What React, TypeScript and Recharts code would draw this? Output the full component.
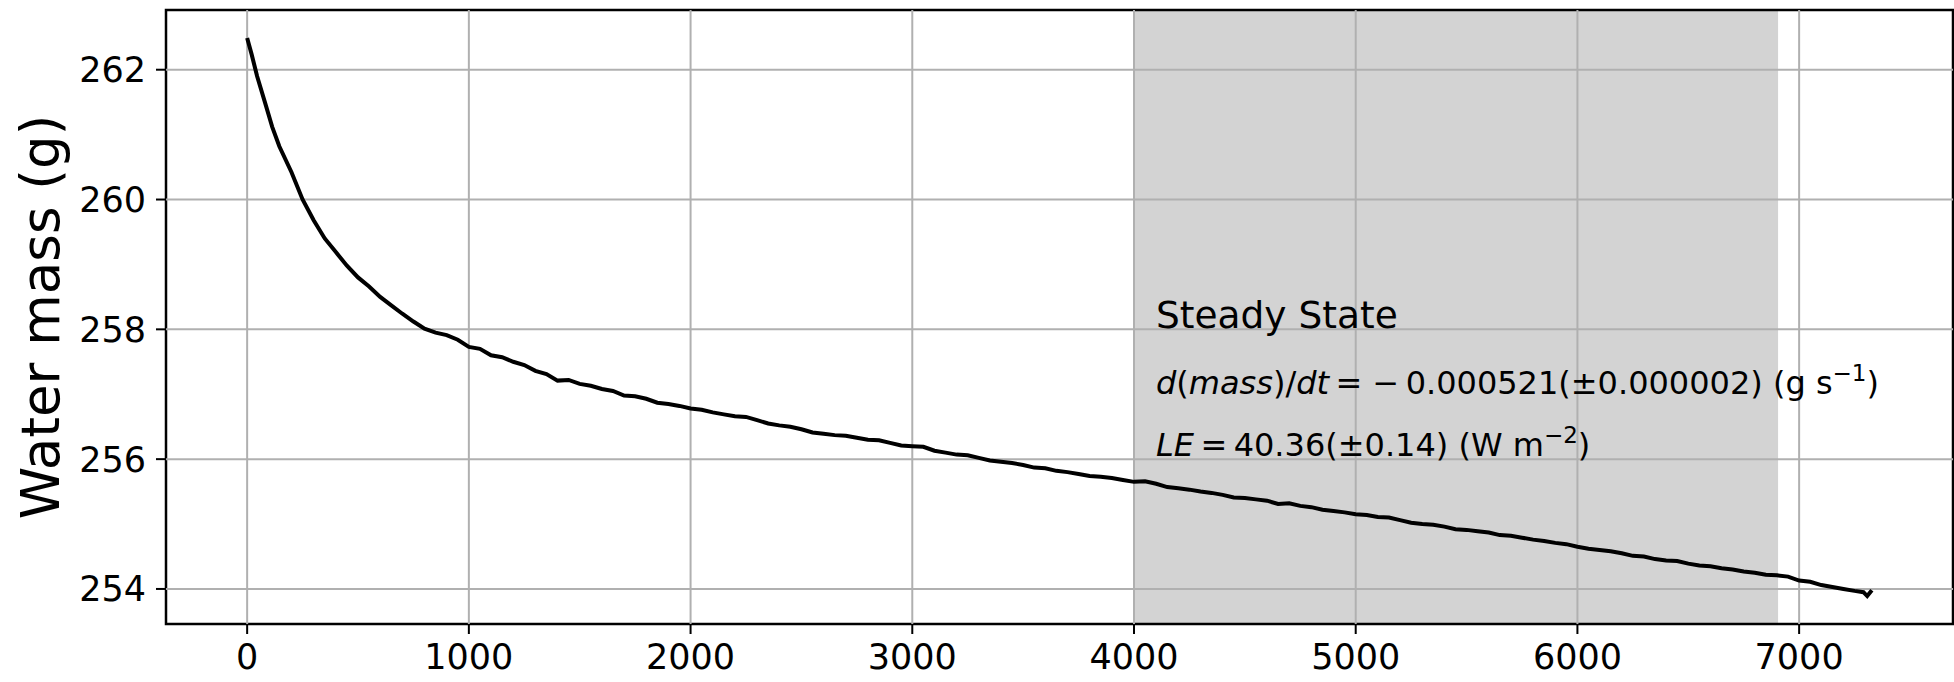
import React from 'react';
import { ComposedChart, Line, XAxis, YAxis, ReferenceArea, ReferenceLine } from 'recharts';

// elapsed time (s) and water mass (g)
const times = [
  0, 20, 45, 80, 113, 145, 200, 250, 300, 350, 400, 450, 500, 550, 600, 650, 700, 750,
  800, 850, 900, 950, 1000, 1050, 1100, 1150, 1200, 1250, 1300, 1350, 1400, 1450, 1500, 1550,
  1600, 1650, 1700, 1750, 1800, 1850, 1900, 1950, 2000, 2050, 2100, 2150, 2200, 2250, 2300, 2350,
  2400, 2450, 2500, 2550, 2600, 2650, 2700, 2750, 2800, 2850, 2900, 2950, 3000, 3050, 3100, 3150,
  3200, 3250, 3300, 3350, 3400, 3450, 3500, 3550, 3600, 3650, 3700, 3750, 3800, 3850, 3900, 3950,
  4000, 4050, 4100, 4150, 4200, 4250, 4300, 4350, 4400, 4450, 4500, 4550, 4600, 4650, 4700, 4750,
  4800, 4850, 4900, 4950, 5000, 5050, 5100, 5150, 5200, 5250, 5300, 5350, 5400, 5450, 5500, 5550,
  5600, 5650, 5700, 5750, 5800, 5850, 5900, 5950, 6000, 6050, 6100, 6150, 6200, 6250, 6300, 6350,
  6400, 6450, 6500, 6550, 6600, 6650, 6700, 6750, 6800, 6850, 6900, 6950, 7000, 7050, 7100, 7150,
  7200, 7250, 7290, 7307, 7328,
];
const masses = [
  262.49, 262.24, 261.9, 261.5, 261.12, 260.82, 260.42, 260.0, 259.68, 259.4, 259.19, 258.98, 258.8, 258.66, 258.5, 258.37, 258.24, 258.12,
  258.01, 257.95, 257.91, 257.84, 257.73, 257.7, 257.6, 257.57, 257.5, 257.45, 257.36, 257.31, 257.21, 257.22, 257.16, 257.13,
  257.08, 257.05, 256.98, 256.97, 256.93, 256.87, 256.85, 256.82, 256.78, 256.76, 256.72, 256.69, 256.66, 256.65, 256.6, 256.55,
  256.52, 256.5, 256.46, 256.41, 256.39, 256.37, 256.36, 256.33, 256.3, 256.29, 256.25, 256.21, 256.2, 256.19, 256.13, 256.1,
  256.07, 256.06, 256.02, 255.98, 255.96, 255.94, 255.91, 255.87, 255.86, 255.82, 255.8, 255.77, 255.74, 255.73, 255.71, 255.68,
  255.65, 255.66, 255.62, 255.57, 255.55, 255.53, 255.5, 255.48, 255.45, 255.41, 255.4, 255.38, 255.36, 255.31, 255.32, 255.28,
  255.26, 255.22, 255.2, 255.18, 255.15, 255.14, 255.11, 255.1, 255.06, 255.02, 255.0, 254.99, 254.96, 254.92, 254.91, 254.89,
  254.87, 254.83, 254.82, 254.79, 254.76, 254.74, 254.71, 254.69, 254.65, 254.62, 254.6, 254.58, 254.55, 254.51, 254.5, 254.46,
  254.44, 254.43, 254.39, 254.36, 254.35, 254.32, 254.3, 254.27, 254.25, 254.22, 254.21, 254.19, 254.13, 254.11, 254.06, 254.03,
  254.0, 253.97, 253.95, 253.89, 253.98,
];

const xTicks = [0, 1000, 2000, 3000, 4000, 5000, 6000, 7000];
const yTicks = [254, 256, 258, 260, 262];
const xDomain = [-366, 7694];
const yDomain = [253.46, 262.92];
const steadyStart = 4000;
const steadyEnd = 6905;

const data = times.map((t, i) => ({ t, mass: masses[i] }));

const FONT = '"DejaVu Sans", sans-serif';
const tickStyle = { fontSize: 35, fill: '#000', fontFamily: FONT };

export default function App() {
  return (
    <div style={{ position: 'absolute', left: 0, top: 0, width: 1954, height: 682, background: '#fff' }}>
      <ComposedChart width={1954} height={682} data={data} margin={{ top: 10, right: 1, bottom: 0, left: 0 }}>
        <XAxis
          dataKey="t"
          type="number"
          domain={xDomain}
          ticks={xTicks}
          allowDataOverflow
          height={58}
          tick={tickStyle}
          tickSize={10}
          tickMargin={10}
          tickLine={{ stroke: '#000', strokeWidth: 2 }}
          axisLine={false}
        />
        <YAxis
          type="number"
          domain={yDomain}
          ticks={yTicks}
          allowDataOverflow
          width={166}
          tick={tickStyle}
          tickSize={10}
          tickMargin={10}
          tickLine={{ stroke: '#000', strokeWidth: 2 }}
          axisLine={false}
        />
        <ReferenceArea x1={steadyStart} x2={steadyEnd} y1={yDomain[0]} y2={yDomain[1]} fill="#d3d3d3" fillOpacity={1} stroke="none" />
        {xTicks.map((v) => (
          <ReferenceLine key={'x' + v} x={v} stroke="#b0b0b0" strokeWidth={2} />
        ))}
        {yTicks.map((v) => (
          <ReferenceLine key={'y' + v} y={v} stroke="#b0b0b0" strokeWidth={2} />
        ))}
        <Line dataKey="mass" type="linear" stroke="#000" strokeWidth={4} dot={false} isAnimationActive={false} />
        <ReferenceArea
          x1={xDomain[0]}
          x2={xDomain[1]}
          y1={yDomain[0]}
          y2={yDomain[1]}
          fill="none"
          stroke="#000"
          strokeWidth={2.5}
        />
      </ComposedChart>
      <svg width={1954} height={682} style={{ position: 'absolute', left: 0, top: 0, pointerEvents: 'none' }} fontFamily={FONT}>
        <text x={40} y={317} fontSize={53} textAnchor="middle" dominantBaseline="central" transform="rotate(-90 40 317)">
          Water mass (g)
        </text>
        <text x={1156} y={328} fontSize={37.5}>Steady State</text>
        <text x={1156} y={394} fontSize={32}>
          <tspan fontStyle="italic">d</tspan>(<tspan fontStyle="italic">mass</tspan>)/<tspan fontStyle="italic">dt</tspan>
          {'\u2009= \u2212\u20090.000521(\u00b10.000002) (g s'}
          <tspan dy={-13} fontSize={23}>{'\u22121'}</tspan>
          <tspan dy={13}>)</tspan>
        </text>
        <text x={1156} y={456} fontSize={32}>
          <tspan fontStyle="italic">LE</tspan>
          {'\u2009=\u200940.36(\u00b10.14) (W m'}
          <tspan dy={-13} fontSize={23}>{'\u22122'}</tspan>
          <tspan dy={13}>)</tspan>
        </text>
      </svg>
    </div>
  );
}
